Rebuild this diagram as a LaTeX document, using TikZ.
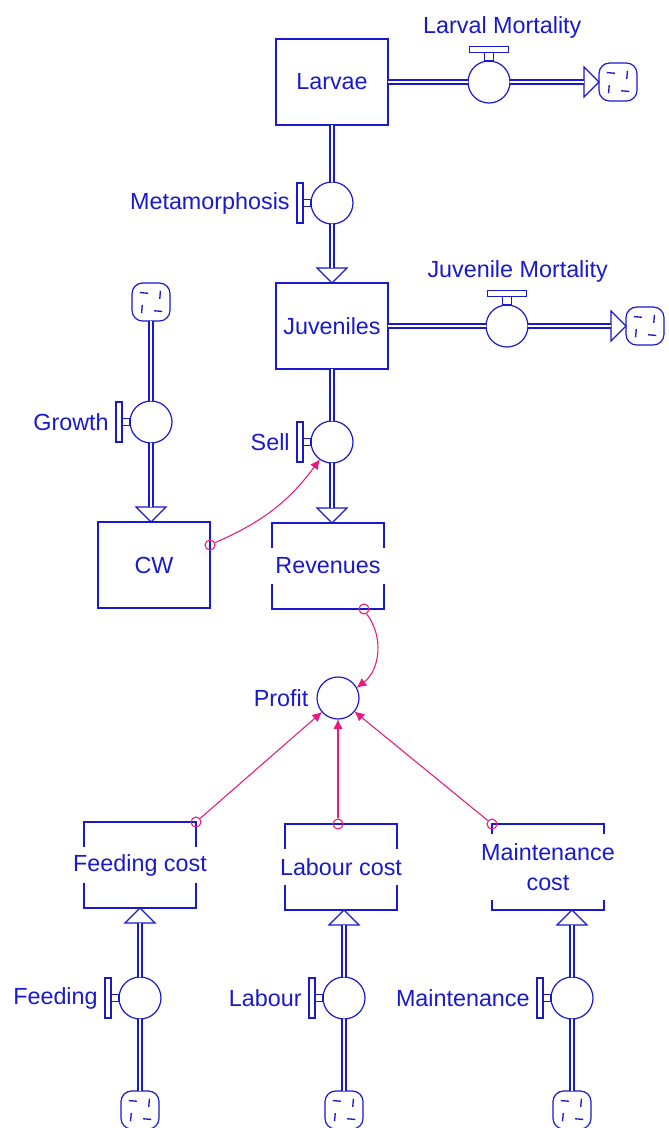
\documentclass[tikz,border=0pt]{standalone}
\usepackage{fontspec}
\setmainfont{Liberation Sans}
\usetikzlibrary{positioning,shapes.geometric,arrows.meta}
\definecolor{stellablue}{RGB}{25,25,205}
\definecolor{linkpink}{RGB}{235,25,125}

\tikzset{
  stock/.style={draw=stellablue, line width=1.1pt, minimum width=84pt, minimum height=64.5pt, outer sep=0pt},
  gap/.style={fill=white, inner sep=2pt, minimum width=88pt, minimum height=27pt, align=center},
  valve/.style={circle, draw=stellablue, line width=0.9pt, minimum size=31.5pt, inner sep=0pt, outer sep=0pt},
  lbl/.style={xshift=-12.5pt},
  toplbl/.style={yshift=13.5pt},
  handle/.style={draw=stellablue, line width=0.8pt, fill=white},
  cloudbox/.style={rectangle, rounded corners=8pt, draw=stellablue, line width=0.9pt, minimum size=28.5pt, inner sep=0pt, outer sep=0pt,
    path picture={\foreach \a in {20,110,200,290}
      \draw[stellablue, line width=1pt] ([shift={(\a:7pt)}]path picture bounding box.center) -- ([shift={(\a+30:11pt)}]path picture bounding box.center);}},
  pipe/.style={draw=stellablue, double=white, double distance=1.9pt, line width=1.1pt},
  pipetip/.style={isosceles triangle, isosceles triangle apex angle=90, draw=stellablue, line width=0.9pt, fill=white, inner sep=0pt, outer sep=0pt, minimum width=11.25pt, minimum height=11.25pt, anchor=apex},
  linkdot/.style={circle, draw=linkpink, line width=0.8pt, minimum size=7.5pt, inner sep=0pt},
  link/.style={draw=linkpink, line width=0.8pt, -{Latex[length=7.5pt,width=7pt]}}
}

\newcommand{\handleleft}[1]{%
  \draw[handle] ([xshift=-6pt,yshift=-2.8pt]#1.west) rectangle ([yshift=2.8pt]#1.west);
  \draw[handle] ([xshift=-10.5pt,yshift=-15pt]#1.west) rectangle ([xshift=-6pt,yshift=15pt]#1.west);}
\newcommand{\handletop}[1]{%
  \draw[handle] ([xshift=-3.2pt]#1.north) rectangle ([xshift=3.2pt,yshift=6.5pt]#1.north);
  \draw[handle] ([xshift=-14.6pt,yshift=6.5pt]#1.north) rectangle ([xshift=14.6pt,yshift=11pt]#1.north);}

\begin{document}
\begin{tikzpicture}[x=0.75pt, y=-0.75pt, every node/.style={font=\fontsize{17.5}{23}\selectfont, text=stellablue}]
  \useasboundingbox (0,0) rectangle (668,1128);

  \node[stock] (larvae) at (332,82) {Larvae};
  \node[stock] (juv) at (332,326) {Juveniles};
  \node[stock] (cw) at (154,565) {CW};
  \node[stock, label={[gap]center:Revenues}] (rev) at (328,566) {};
  \node[stock, label={[gap]center:Feeding cost}] (fcost) at (140,865) {};
  \node[stock, label={[gap]center:Labour cost}] (lcost) at (341,867) {};
  \node[stock, label={[gap, minimum height=50pt]center:Maintenance\\cost}] (mcost) at (548,867) {};

  \node[valve, label={[toplbl, xshift=10pt]above:Larval Mortality}] (larvmort) at (489,82) {};
  \node[valve, label={[lbl]left:Metamorphosis}] (meta) at (332,203) {};
  \node[valve, label={[toplbl, xshift=8pt]above:Juvenile Mortality}] (juvmort) at (507,326) {};
  \node[valve, label={[lbl]left:Growth}] (growth) at (151,422) {};
  \node[valve, label={[lbl]left:Sell}] (sell) at (332,442) {};
  \node[valve, label={[xshift=-3pt]left:Profit}] (profit) at (338,698) {};
  \node[valve, label={[lbl]left:Feeding}] (feeding) at (140,998) {};
  \node[valve, label={[lbl]left:Labour}] (labour) at (344,998) {};
  \node[valve, label={[lbl]left:Maintenance}] (maint) at (572,998) {};

  \node[cloudbox] (cloudlm) at (618,82) {};
  \node[cloudbox] (cloudjm) at (645,326) {};
  \node[cloudbox] (cloudg) at (151,302) {};
  \node[cloudbox] (cloudf) at (140,1110) {};
  \node[cloudbox] (cloudl) at (344,1110) {};
  \node[cloudbox] (cloudm) at (572,1110) {};

  \node[pipetip] (tiplm) at (cloudlm.west) {};
  \node[pipetip] (tipjm) at (cloudjm.west) {};
  \node[pipetip, shape border rotate=270] (tipjuv) at (meta |- juv.north) {};
  \node[pipetip, shape border rotate=270] (tiprev) at (sell |- rev.north) {};
  \node[pipetip, shape border rotate=270] (tipcw) at (growth |- cw.north) {};
  \node[pipetip, shape border rotate=90] (tipf) at (feeding |- fcost.south) {};
  \node[pipetip, shape border rotate=90] (tipl) at (labour |- lcost.south) {};
  \node[pipetip, shape border rotate=90] (tipm) at (maint |- mcost.south) {};

  \draw[pipe] (larvae) -- (larvmort);
  \draw[pipe] (larvmort) -- (tiplm);
  \draw[pipe] (larvae) -- (meta);
  \draw[pipe] (meta) -- (tipjuv);
  \draw[pipe] (juv) -- (juvmort);
  \draw[pipe] (juvmort) -- (tipjm);
  \draw[pipe] (juv) -- (sell);
  \draw[pipe] (sell) -- (tiprev);
  \draw[pipe] (cloudg) -- (growth);
  \draw[pipe] (growth) -- (tipcw);
  \draw[pipe] (cloudf) -- (feeding);
  \draw[pipe] (feeding) -- (tipf);
  \draw[pipe] (cloudl) -- (labour);
  \draw[pipe] (labour) -- (tipl);
  \draw[pipe] (cloudm) -- (maint);
  \draw[pipe] (maint) -- (tipm);

  \handletop{larvmort}
  \handletop{juvmort}
  \handleleft{meta}
  \handleleft{growth}
  \handleleft{sell}
  \handleleft{feeding}
  \handleleft{labour}
  \handleleft{maint}

  \node[linkdot] (cwdot) at ([yshift=15pt]cw.east) {};
  \node[linkdot] (revdot) at ([xshift=-15pt]rev.south east) {};
  \node[linkdot] (fdot) at (fcost.north east) {};
  \node[linkdot] (ldot) at (profit |- lcost.north) {};
  \node[linkdot] (mdot) at (mcost.north west) {};
  \draw[link] (cwdot) to[bend right=15] (sell);
  \draw[link] (revdot) to[bend left=45] (profit);
  \draw[link] (fdot) -- (profit);
  \draw[link] (ldot) -- (profit);
  \draw[link] (mdot) -- (profit);
\end{tikzpicture}
\end{document}
